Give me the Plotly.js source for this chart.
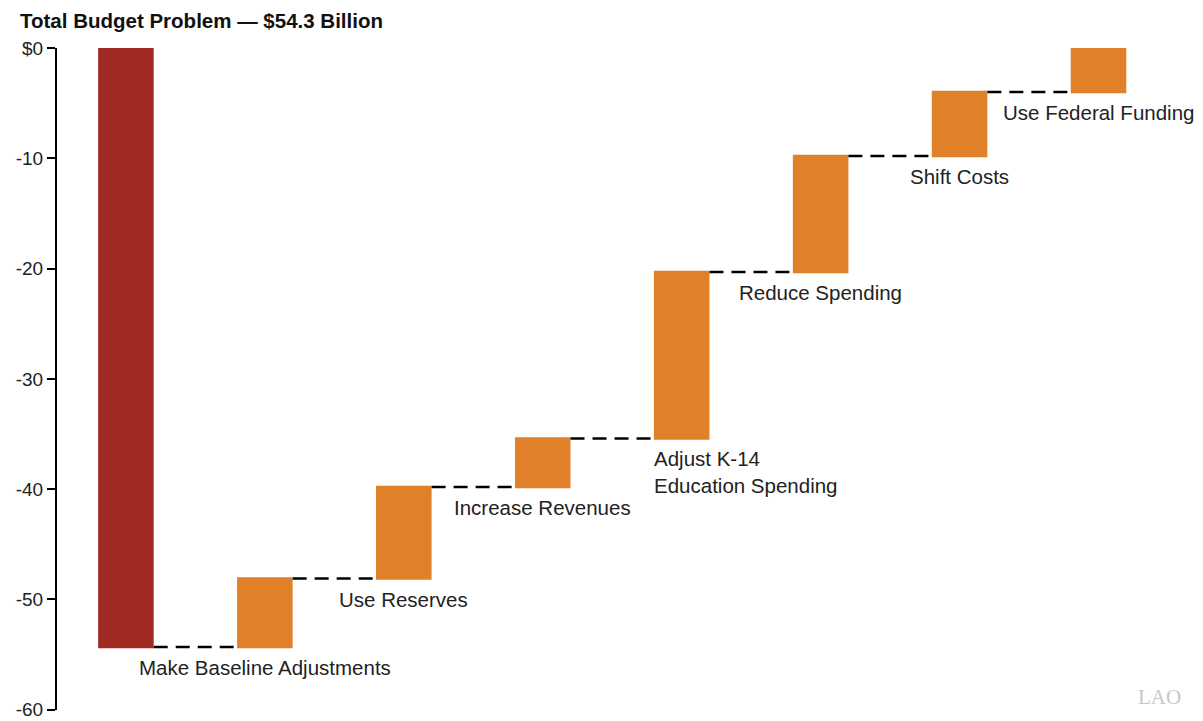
<!DOCTYPE html>
<html>
<head>
<meta charset="utf-8">
<script src="https://cdn.plot.ly/plotly-3.0.1.min.js"></script>
<style>html,body{margin:0;padding:0;background:#fff;}#chart{width:1203px;height:721px;}</style>
</head>
<body>
<div id="chart"></div>
<script>
const categories = ["Total Budget Problem", "Make Baseline Adjustments", "Use Reserves", "Increase Revenues", "Adjust K-14<br>Education Spending", "Reduce Spending", "Shift Costs", "Use Federal Funding"];
const changes = [-54.3, 6.2, 8.3, 4.4, 15.1, 10.5, 5.8, 4.0];
const tickValues = [0, -10, -20, -30, -40, -50, -60];
const tickLabels = ["$0", "-10", "-20", "-30", "-40", "-50", "-60"];

const xs = categories.map((c, i) => i);
let run = 0;
const bottoms = changes.map(v => { const start = run; run += v; return Math.min(start, run); });

const FONT = "Liberation Sans, Arial, sans-serif";

const trace = {
  type: "waterfall",
  x: xs,
  y: changes,
  measure: changes.map(() => "relative"),
  width: 0.4,
  decreasing: {marker: {color: "#A12A24"}},
  increasing: {marker: {color: "#E0812A"}},
  connector: {line: {color: "#000", width: 2.5, dash: "14px,8px"}},
  textinfo: "none",
  hoverinfo: "skip",
  showlegend: false
};

const annotations = [];
categories.forEach((c, i) => {
  if (i === 0) return;
  const left = (i === 4);
  annotations.push({
    x: left ? i - 0.2 : i,
    y: bottoms[i],
    xref: "x", yref: "y",
    text: c,
    showarrow: false,
    xanchor: left ? "left" : "center",
    yanchor: "top",
    align: "left",
    yshift: -7,
    xshift: left ? -2 : 0,
    font: {family: FONT, size: 20.5, color: "#222"}
  });
});
annotations.push({
  xref: "paper", yref: "paper", x: 1.0, y: 0.0, xanchor: "right", yanchor: "middle",
  yshift: 13, xshift: -20,
  text: "LAO", showarrow: false,
  font: {family: "Liberation Serif, serif", size: 21, color: "#c8c8c8"}
});

const layout = {
  width: 1203, height: 721,
  margin: {l: 57, r: 0, t: 48, b: 11},
  paper_bgcolor: "#fff", plot_bgcolor: "#fff",
  title: {
    text: "<b>Total Budget Problem — $54.3 Billion</b>",
    x: 20/1203, xanchor: "left", xref: "container",
    y: 1 - 21/721, yanchor: "middle", yref: "container",
    font: {family: FONT, size: 20.5, color: "#111"}
  },
  xaxis: {
    range: [-0.496, 7.752],
    showgrid: false, zeroline: false, showline: false,
    showticklabels: false, ticks: "", fixedrange: true
  },
  yaxis: {
    range: [-60.02, 0],
    tickvals: tickValues, ticktext: tickLabels,
    showgrid: false, zeroline: false,
    showline: true, linecolor: "#000", linewidth: 2,
    ticks: "outside", ticklen: 8, tickwidth: 2, tickcolor: "#000",
    tickfont: {family: FONT, size: 19, color: "#222"},
    ticklabeloverflow: "allow",
    fixedrange: true
  },
  annotations: annotations
};

Plotly.newPlot("chart", [trace], layout, {displayModeBar: false, staticPlot: true});
</script>
</body>
</html>
